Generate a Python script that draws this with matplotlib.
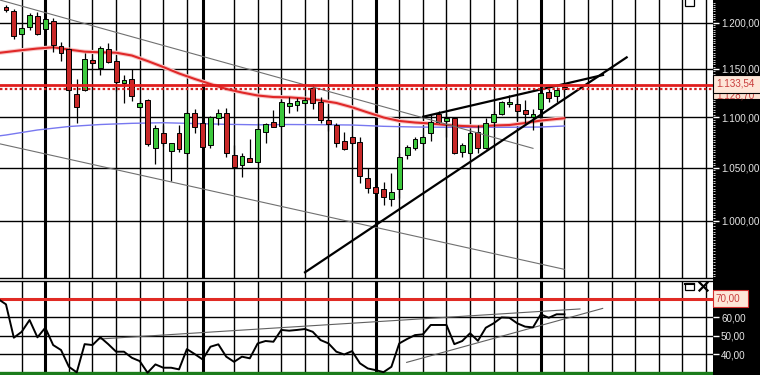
## imports
import numpy as np
from matplotlib import pyplot as plt
from matplotlib.patches import Rectangle
from matplotlib.lines import Line2D
from matplotlib.ticker import FixedLocator, FuncFormatter, NullFormatter

plt.rcParams['font.family'] = ['Liberation Sans', 'DejaVu Sans']

## data (weekly candles)
opens = [1217.5, 1213.0, 1187.6, 1194.9, 1207.4, 1192.7, 1202.2, 1174.5, 1171.0, 1123.4,
         1128.0, 1159.5, 1150.7, 1171.0, 1158.4, 1135.5, 1139.0, 1110.7, 1117.6, 1068.9,
         1083.8, 1066.3, 1083.8, 1064.0, 1104.0, 1093.8, 1072.2, 1098.9, 1104.0, 1062.4,
         1052.3, 1059.1, 1055.9, 1085.4, 1095.5, 1091.1, 1111.7, 1112.4, 1114.8, 1129.7,
         1115.8, 1097.1, 1092.1, 1076.5, 1080.4, 1075.5, 1039.8, 1031.3, 1029.4, 1019.9,
         1029.4, 1062.4, 1068.9, 1073.9, 1083.8, 1103.3, 1096.2, 1098.9, 1065.6, 1064.6,
         1085.4, 1068.9, 1095.5, 1103.3, 1113.2, 1113.4, 1107.4, 1100.5, 1108.1, 1126.2,
         1121.7, 1130.5]
highs = [1219.7, 1214.9, 1195.3, 1210.4, 1212.2, 1204.9, 1204.9, 1179.2, 1172.0, 1139.0,
         1166.7, 1161.6, 1174.5, 1177.5, 1161.9, 1143.6, 1149.6, 1116.6, 1118.7, 1092.1,
         1092.1, 1074.5, 1092.1, 1105.3, 1108.4, 1095.1, 1101.2, 1108.1, 1109.1, 1072.2,
         1064.6, 1077.8, 1093.8, 1093.8, 1107.4, 1117.6, 1120.3, 1119.2, 1120.6, 1134.1,
         1120.3, 1103.3, 1094.4, 1085.4, 1081.1, 1079.8, 1049.4, 1032.5, 1036.5, 1044.6,
         1064.0, 1072.2, 1079.8, 1082.1, 1102.5, 1105.8, 1104.0, 1100.5, 1074.5, 1086.4,
         1092.1, 1098.9, 1105.8, 1116.9, 1122.7, 1119.2, 1117.6, 1108.1, 1128.0, 1129.7,
         1131.3, 1134.1]
lows = [1211.9, 1181.8, 1186.5, 1192.0, 1186.5, 1191.2, 1168.4, 1158.7, 1127.0, 1094.4,
        1127.3, 1155.2, 1143.6, 1156.0, 1127.0, 1114.2, 1116.9, 1109.0, 1071.2, 1053.6,
        1071.3, 1037.0, 1065.6, 1063.3, 1084.4, 1069.7, 1069.2, 1092.1, 1060.7, 1050.2,
        1041.3, 1055.2, 1055.0, 1074.5, 1089.8, 1090.4, 1104.0, 1105.8, 1113.4, 1108.1,
        1094.4, 1086.4, 1070.5, 1067.3, 1073.2, 1035.0, 1026.1, 1024.9, 1014.5, 1013.6,
        1020.8, 1058.2, 1067.3, 1073.2, 1076.0, 1094.1, 1080.4, 1063.3, 1060.7, 1063.8,
        1064.6, 1068.0, 1090.4, 1102.3, 1110.7, 1097.1, 1093.8, 1087.1, 1107.4, 1115.8,
        1115.8, 1126.2]
closes = [1214.1, 1185.4, 1193.8, 1208.5, 1187.2, 1203.8, 1175.6, 1166.7, 1128.0, 1110.7,
          1160.2, 1156.6, 1172.0, 1157.7, 1136.6, 1138.3, 1121.7, 1114.2, 1072.7, 1089.4,
          1073.9, 1073.9, 1068.0, 1104.6, 1090.1, 1070.5, 1099.9, 1104.0, 1064.6, 1051.0,
          1061.4, 1055.9, 1088.1, 1092.8, 1090.4, 1115.8, 1114.2, 1116.9, 1117.6, 1114.2,
          1097.1, 1092.8, 1073.9, 1068.0, 1073.9, 1042.0, 1030.3, 1026.1, 1021.8, 1027.0,
          1060.7, 1070.5, 1077.8, 1080.4, 1095.5, 1095.5, 1098.9, 1064.6, 1072.2, 1083.8,
          1068.9, 1093.8, 1103.0, 1115.2, 1115.5, 1106.6, 1103.0, 1103.0, 1125.1, 1119.9,
          1128.0, 1128.7]

# moving averages (candle index, value)
maRedIdx = [-1, 0, 2, 4, 6, 8, 10, 12, 14, 16, 18, 20, 22, 24, 26, 28, 30, 32, 34, 36,
            38, 40, 42, 44, 46, 48, 50, 52, 54, 56, 58, 60, 62, 64, 66, 68, 70, 71]
maRed = [1167.0, 1168.0, 1170.0, 1171.8, 1173.1, 1170.7, 1168.4, 1167.7, 1167.3, 1164.3,
         1158.4, 1152.0, 1145.2, 1139.4, 1134.1, 1129.0, 1125.3, 1122.2, 1120.6, 1120.3,
         1119.1, 1117.1, 1114.5, 1110.1, 1104.8, 1099.7, 1096.2, 1094.6, 1093.6, 1092.1,
         1091.1, 1090.6, 1091.6, 1092.1, 1094.1, 1096.6, 1098.2, 1098.9]
maBlueIdx = [-1, 0, 4, 8, 12, 16, 20, 24, 28, 32, 36, 40, 44, 48, 52, 56, 60, 64, 68, 71]
maBlue = [1081.1, 1082.1, 1087.1, 1090.6, 1092.6, 1093.8, 1094.4, 1093.6, 1092.8, 1092.3,
          1092.6, 1092.4, 1092.1, 1090.8, 1090.1, 1089.8, 1089.8, 1089.8, 1090.1, 1091.1]

# RSI, one value per candle, starting one candle before the first visible one
rsiValues = [70.0, 67.1, 49.0, 52.2, 58.6, 49.2, 54.4, 45.0, 42.3, 33.2, 30.2, 45.5, 45.0,
             49.2, 45.5, 41.4, 41.4, 38.1, 36.3, 30.0, 34.5, 32.7, 32.7, 31.8, 42.8, 40.1,
             37.2, 44.1, 45.4, 38.7, 35.9, 38.7, 37.8, 45.9, 47.2, 46.8, 53.2, 52.8, 53.2,
             53.7, 52.2, 47.7, 45.9, 41.4, 39.9, 41.7, 35.1, 32.3, 31.4, 30.3, 33.2, 45.9,
             48.3, 50.4, 50.8, 55.9, 55.9, 55.9, 45.5, 47.2, 51.4, 47.3, 54.4, 56.8, 60.0,
             59.8, 56.8, 55.0, 54.6, 61.7, 59.8, 61.7, 61.7]

resistance = 1133.54
lastPrice = 1128.70

# drawn trend lines: (idxStart, valStart, idxEnd, valEnd)
thinPriceLines = [(-0.76, 1225.3, 67.0, 1068.9),
                  (-0.76, 1073.3, 70.98, 956.2)]
wedgeLines = [(38.02, 953.6, 78.91, 1162.3),
              (53.06, 1100.5, 75.9, 1143.6)]
rsiLines = [(11.96, 48.3, 72.97, 64.6),
            (50.94, 35.6, 75.86, 64.9)]

priceTicks = [1000, 1050, 1100, 1150, 1200]
rsiTicks = [40, 50, 60]
rsiUpper = 70
rsiLower = 30

# grid: thin every 3 weeks, heavy at period breaks
thinGridIdx = [2 + 3 * k for k in range(30) if 2 + 3 * k != 26]
thickGridIdx = [5, 25, 47, 68]


## helpers
W, H = 760, 375

def germanNumber(v):
    s = '{:,.2f}'.format(v)
    return s.replace(',', '#').replace('.', ',').replace('#', '.')

def pxRect(x0, y0, x1, y1, **kw):
    return Rectangle((x0 / W, 1 - y1 / H), (x1 - x0) / W, (y1 - y0) / H,
                     transform=fig.transFigure, **kw)

def pxLine(xs, ys, **kw):
    return Line2D([x / W for x in xs], [1 - y / H for y in ys],
                  transform=fig.transFigure, **kw)


## figure setup
fig = plt.figure(figsize=(W / 100, H / 100), dpi=100, facecolor='white')
fig.add_artist(pxRect(713, 0, W, H, facecolor='black', edgecolor='none', zorder=-1))

axPrice = fig.add_axes([0, 1 - 277.7 / H, 713 / W, 277.7 / H])
axRsi = fig.add_axes([0, 0, 713 / W, 94 / H])

xLimits = (-0.759, 89.885)
labelSize = 7.1

for ax in (axPrice, axRsi):
    ax.set_xlim(*xLimits)
    ax.set_facecolor('white')
    for side in ('left', 'right', 'top', 'bottom'):
        ax.spines[side].set_visible(False)
    ax.tick_params(axis='x', bottom=False, labelbottom=False)
    ax.yaxis.tick_right()
    for ind in thinGridIdx:
        ax.axvline(ind, color='black', lw=1.0, zorder=1)
    for ind in thickGridIdx:
        ax.axvline(ind, color='black', lw=2.2, zorder=1)

axPrice.spines['bottom'].set_visible(True)
axPrice.spines['bottom'].set_linewidth(1.0)
axRsi.spines['top'].set_visible(True)
axRsi.spines['top'].set_linewidth(1.0)

## price panel
axPrice.set_yscale('log')
axPrice.set_ylim(948.85, 1225.35)
for val in priceTicks:
    axPrice.axhline(val, color='black', lw=1.0, zorder=1)

axPrice.yaxis.set_major_locator(FixedLocator(priceTicks))
axPrice.yaxis.set_major_formatter(FuncFormatter(lambda v, p: germanNumber(v)))
axPrice.yaxis.set_minor_locator(FixedLocator(np.arange(950, 1225, 2.5)))
axPrice.yaxis.set_minor_formatter(NullFormatter())
axPrice.tick_params(axis='y', which='major', color='white', labelcolor='#e6e6e6',
                    length=4, width=1, pad=1.8, labelsize=labelSize)
axPrice.tick_params(axis='y', which='minor', color='#d0d0d0', length=1.6, width=0.7)

# moving averages
axPrice.plot(maRedIdx, maRed, color='#f8c8c8', lw=3.0, solid_capstyle='butt', zorder=2)
axPrice.plot(maRedIdx, maRed, color='#e02828', lw=1.5, zorder=2.1)
axPrice.plot(maBlueIdx, maBlue, color='#7878f0', lw=1.0, zorder=2)

# candles
idx = np.arange(len(opens))
o = np.array(opens)
c = np.array(closes)
candleColors = np.where(c >= o, '#3cc83c', '#c82828')
axPrice.vlines(idx, lows, highs, color='black', lw=0.9, zorder=3)
axPrice.bar(idx, np.maximum(np.abs(c - o), 0.8), bottom=np.minimum(o, c), width=0.62,
            color=candleColors, edgecolor='black', linewidth=0.7, zorder=4)

# trend lines
for x0, y0, x1, y1 in thinPriceLines:
    axPrice.plot([x0, x1], [y0, y1], color='#707070', lw=0.8, zorder=4.5)
for x0, y0, x1, y1 in wedgeLines:
    axPrice.plot([x0, x1], [y0, y1], color='black', lw=1.6, zorder=5)

# horizontal levels
axPrice.axhline(resistance, color='#e01e1e', lw=2.0, zorder=6)
axPrice.axhline(lastPrice, color='#d42020', lw=1.6, linestyle=(0, (1.1, 1.1)), zorder=6)

## rsi panel
axRsi.set_ylim(28.75, 79.77)
for val in rsiTicks:
    axRsi.axhline(val, color='black', lw=1.0, zorder=1)
axRsi.axhline(rsiUpper, color='#e02a24', lw=2.2, zorder=2)
axRsi.axhline(rsiLower, color='#1c7c1c', lw=2.4, zorder=2)

axRsi.yaxis.set_major_locator(FixedLocator(rsiTicks))
axRsi.yaxis.set_major_formatter(FuncFormatter(lambda v, p: germanNumber(v)))
axRsi.tick_params(axis='y', which='major', color='white', labelcolor='#e6e6e6',
                  length=4, width=1, pad=1.8, labelsize=labelSize)

for x0, y0, x1, y1 in rsiLines:
    axRsi.plot([x0, x1], [y0, y1], color='#606060', lw=0.8, zorder=3)
axRsi.plot(np.arange(-1, len(rsiValues) - 1), rsiValues, color='black', lw=1.4, zorder=4)

## value boxes on the scale
fig.add_artist(pxRect(713, 87, 761, 99, facecolor='#fbe2d2', edgecolor='black', lw=0.8, zorder=5))
fig.text(716 / W, 1 - 96 / H, germanNumber(lastPrice), color='#c84040', fontsize=labelSize,
         va='center', ha='left', zorder=5.5)
fig.add_artist(pxRect(713, 75, 761, 93, facecolor='#fde6d8', edgecolor='black', lw=0.8, zorder=6))
fig.text(716 / W, 1 - 84 / H, germanNumber(resistance), color='#c83c3c', fontsize=labelSize,
         va='center', ha='left', zorder=6.5)

fig.add_artist(pxRect(713, 290, 748, 307, facecolor='#fde6d8', edgecolor='#d03030', lw=0.8, zorder=6))
fig.text(716 / W, 1 - 298.5 / H, germanNumber(rsiUpper), color='#c83c3c', fontsize=labelSize,
         va='center', ha='left', zorder=6.5)

## window icons
fig.add_artist(pxRect(684.5, -2, 694, 6, facecolor='white', edgecolor='black', lw=0.9, zorder=7))
fig.add_artist(pxRect(685, 283, 694, 289.5, facecolor='white', edgecolor='black', lw=0.9, zorder=7))
fig.add_artist(pxLine([685, 694], [283.6, 283.6], color='black', lw=1.5, zorder=7.1))
fig.add_artist(pxLine([699.5, 707.5], [282.5, 290.5], color='black', lw=1.6, zorder=7))
fig.add_artist(pxLine([699.5, 707.5], [290.5, 282.5], color='black', lw=1.6, zorder=7))

fig.savefig('out.png', dpi=100, facecolor='white')
